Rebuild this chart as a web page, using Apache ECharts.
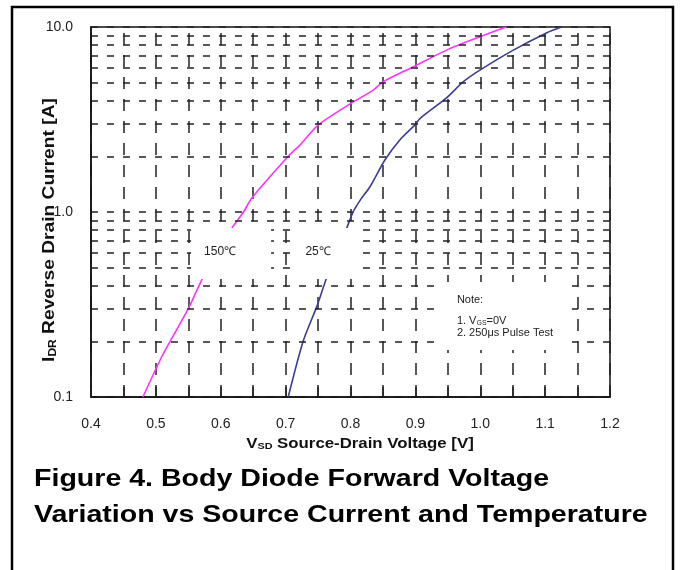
<!DOCTYPE html>
<html><head><meta charset="utf-8">
<script src="https://cdn.jsdelivr.net/npm/echarts@6/dist/echarts.min.js"></script>
<style>html,body{margin:0;padding:0;background:#fff}#c{width:685px;height:570px}</style>
</head><body><div id="c"></div>
<script>
// ---- data ----
const vsd150 = [0.48,0.509,0.522,0.55,0.572,0.617,0.635,0.648,0.704,0.722,0.75,0.80,0.835,0.85,0.897,0.948,1.0,1.04];
const idr150 = [0.1,0.165,0.2,0.3,0.438,0.816,1.0,1.19,2.0,2.3,2.95,3.85,4.56,5.05,6.1,7.5,8.87,10];
const vsd25 = [0.704,0.727,0.748,0.763,0.794,0.804,0.815,0.83,0.853,0.876,0.899,0.907,0.948,0.974,1.0,1.051,1.102,1.125];
const idr25 = [0.1,0.2,0.308,0.438,0.816,1.0,1.16,1.37,1.91,2.45,2.95,3.2,4.14,5.06,5.86,7.5,9.29,10];
const xTickLabels = ['0.4','0.5','0.6','0.7','0.8','0.9','1.0','1.1','1.2'];
const yTickLabels = ['0.1','1.0','10.0'];
const yGridValues = [0.2,0.3,0.4,0.5,0.6,0.7,0.8,0.9,2,3,4,5,6,7,8,9];
const seriesNames = ['150℃','25℃'];

const FONT = '"Liberation Sans", Arial, sans-serif';
const GRID = '#222';
const chart = echarts.init(document.getElementById('c'), null, {renderer:'canvas'});
const zip = (a,b) => a.map((v,i)=>[v,b[i]]);

chart.setOption({
  animation:false,
  backgroundColor:'#fff',
  grid:{left:91, top:27, width:519, height:370, show:true, borderColor:'#111', borderWidth:1.5, containLabel:false},
  xAxis:{
    type:'value', min:0.4, max:1.2, interval:0.1,
    axisLine:{show:true, lineStyle:{color:'#111', width:1.5}},
    axisTick:{show:true, inside:true, length:10, lineStyle:{color:GRID, width:1.5}},
    minorTick:{show:true, splitNumber:2, length:10, lineStyle:{color:GRID, width:1.5}},
    axisLabel:{fontSize:14, color:'#222', fontFamily:FONT, margin:20,
      formatter:v=>xTickLabels[Math.round((v-0.4)*10)] || ''},
    splitLine:{show:true, lineStyle:{color:GRID, width:1.5, type:[12,10], dashOffset:16}},
    minorSplitLine:{show:true, lineStyle:{color:GRID, width:1.5, type:[12,10], dashOffset:16}}
  },
  yAxis:{
    type:'log', logBase:10, min:0.1, max:10,
    axisLine:{show:true, lineStyle:{color:'#111', width:1.5}},
    axisTick:{show:false},
    axisLabel:{fontSize:14, color:'#222', fontFamily:FONT, margin:18,
      formatter:v=>yTickLabels[Math.round(Math.log10(v))+1] || ''},
    splitLine:{show:true, lineStyle:{color:GRID, width:1.5, type:[7,9]}}
  },
  series:[
    {type:'line', name:'grid', data:[], z:1, silent:true,
     markLine:{silent:true, symbol:['none','none'], label:{show:false}, animation:false,
       lineStyle:{color:GRID, width:1.5, type:[7,9]},
       data:yGridValues.map(v=>({yAxis:v}))}},
    {type:'line', name:seriesNames[0], data:zip(vsd150,idr150), smooth:0.25, showSymbol:false, z:3,
     lineStyle:{color:'#ff33ff', width:1.6}},
    {type:'line', name:seriesNames[1], data:zip(vsd25,idr25), smooth:0.25, showSymbol:false, z:3,
     lineStyle:{color:'#3c3c96', width:1.6}}
  ]
});

const px = (v,i) => chart.convertToPixel({gridIndex:0}, [v,i]);
const a150 = px(0.599, 0.608);
const a25 = px(0.75, 0.608);
const aNote = px(0.9424, 0.418);
const txt = (x,y,text,extra) => Object.assign({type:'text', x, y, z:110,
  style:Object.assign({text, fill:'#222', fontFamily:FONT, fontSize:12, align:'center', verticalAlign:'middle'}, extra||{})});

chart.setOption({graphic:[
  {type:'rect', z:120, shape:{x:12, y:7, width:661, height:590}, style:{fill:'none', stroke:'#000', lineWidth:2.5}},
  {type:'rect', z:100, shape:{x:a150[0]-29, y:a150[1]-24, width:80, height:51}, style:{fill:'#fff'}},
  {type:'rect', z:100, shape:{x:a25[0]-28, y:a25[1]-24, width:72, height:51}, style:{fill:'#fff'}},
  {type:'rect', z:100, shape:{x:aNote[0], y:aNote[1], width:129, height:68}, style:{fill:'#fff'}},
  txt(a150[0], a150[1], seriesNames[0]),
  txt(a25[0], a25[1], seriesNames[1]),
  txt(aNote[0]+14, aNote[1]+18, 'Note:', {align:'left', fontSize:11}),
  {type:'text', x:aNote[0]+14, y:aNote[1]+36, z:110, style:{text:'{n|1. V}{s|GS}{n|=0V}', align:'left', verticalAlign:'middle', fill:'#222',
     rich:{n:{fontSize:11, fontFamily:FONT, fill:'#222', lineHeight:16, verticalAlign:'bottom'}, s:{fontSize:7, fontFamily:FONT, fill:'#222', lineHeight:10, verticalAlign:'bottom'}}}},
  txt(aNote[0]+14, aNote[1]+51, '2. 250μs Pulse Test', {align:'left', fontSize:11}),
  // axis titles
  {type:'text', x:47, y:230, rotation:Math.PI/2, scaleX:1.2, z:110, style:{text:'{b|I}{s|DR}{b| Reverse Drain Current [A]}', align:'center', verticalAlign:'middle',
     rich:{b:{fontSize:16, fontWeight:'bold', fontFamily:FONT, fill:'#111', lineHeight:22, verticalAlign:'bottom'}, s:{fontSize:10, fontWeight:'bold', fontFamily:FONT, fill:'#111', lineHeight:13, verticalAlign:'bottom'}}}},
  {type:'text', x:360, y:441, scaleX:1.2, z:110, style:{text:'{b|V}{s|SD}{b| Source-Drain Voltage [V]}', align:'center', verticalAlign:'middle',
     rich:{b:{fontSize:14, fontWeight:'bold', fontFamily:FONT, fill:'#111', lineHeight:20, verticalAlign:'bottom'}, s:{fontSize:9, fontWeight:'bold', fontFamily:FONT, fill:'#111', lineHeight:12, verticalAlign:'bottom'}}}},
  // caption
  {type:'text', x:34, y:479, scaleX:1.19, z:110, style:{text:'Figure 4. Body Diode Forward Voltage', align:'left', verticalAlign:'middle', fontSize:24, fontWeight:'bold', fontFamily:FONT, fill:'#000'}},
  {type:'text', x:34, y:515, scaleX:1.19, z:110, style:{text:'Variation vs Source Current and Temperature', align:'left', verticalAlign:'middle', fontSize:24, fontWeight:'bold', fontFamily:FONT, fill:'#000'}}
]});
</script></body></html>
